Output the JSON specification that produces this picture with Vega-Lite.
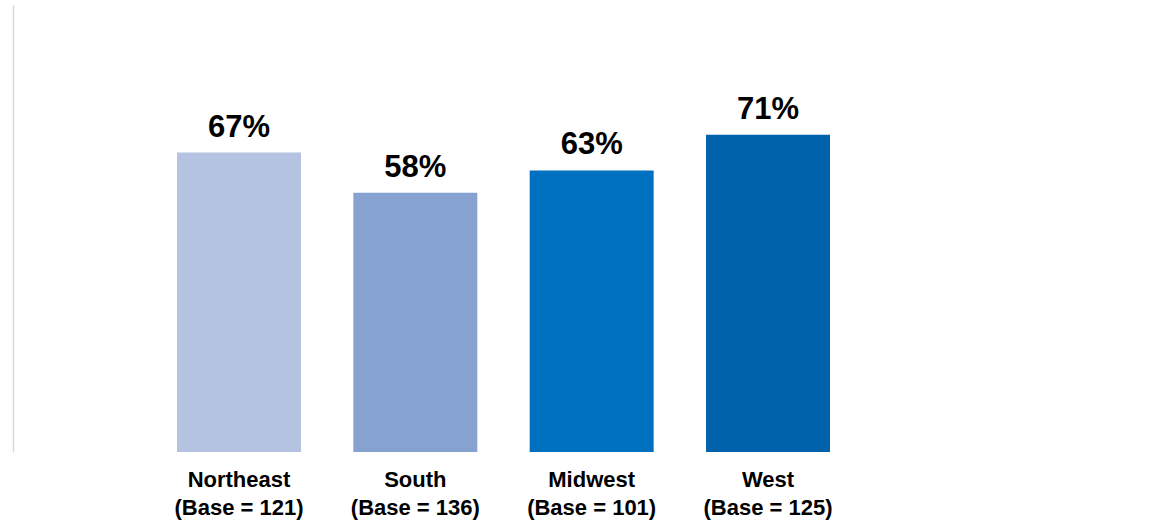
{
  "$schema": "https://vega.github.io/schema/vega-lite/v6.json",
  "autosize": "none",
  "width": 981,
  "height": 447,
  "padding": {"left": 13, "top": 5, "right": 161, "bottom": 75},
  "background": "white",
  "config": {"view": {"stroke": null}, "font": "Liberation Sans"},
  "data": {
    "values": [
      {"region": "Northeast", "base": 121, "value": 67},
      {"region": "South", "base": 136, "value": 58},
      {"region": "Midwest", "base": 101, "value": 63},
      {"region": "West", "base": 125, "value": 71}
    ]
  },
  "transform": [
    {"calculate": "datum.region + '\\n(Base = ' + datum.base + ')'", "as": "label"},
    {"calculate": "datum.value + '%'", "as": "pct"}
  ],
  "encoding": {
    "x": {
      "field": "label",
      "type": "nominal",
      "sort": null,
      "scale": {"paddingInner": 0.297, "paddingOuter": 0.93},
      "axis": {
        "title": null,
        "domain": false,
        "ticks": false,
        "labelAngle": 0,
        "labelExpr": "split(datum.label, '\\n')",
        "labelFontSize": 22,
        "labelFontWeight": "bold",
        "labelColor": "#000000",
        "labelLineHeight": 28,
        "labelPadding": 17
      }
    },
    "y": {
      "field": "value",
      "type": "quantitative",
      "scale": {"domain": [0, 100]},
      "axis": {
        "title": null,
        "grid": false,
        "ticks": false,
        "labels": false,
        "domain": true,
        "domainColor": "#D9D9D9",
        "domainWidth": 1.5
      }
    }
  },
  "layer": [
    {
      "mark": {"type": "bar"},
      "encoding": {
        "color": {
          "field": "region",
          "type": "nominal",
          "sort": null,
          "scale": {
            "domain": ["Northeast", "South", "Midwest", "West"],
            "range": ["#B4C3E1", "#86A2D0", "#0070C0", "#0062AA"]
          },
          "legend": null
        }
      }
    },
    {
      "mark": {
        "type": "text",
        "baseline": "alphabetic",
        "dy": -16,
        "fontSize": 31,
        "fontWeight": "bold",
        "color": "#000000"
      },
      "encoding": {"text": {"field": "pct"}}
    }
  ]
}
